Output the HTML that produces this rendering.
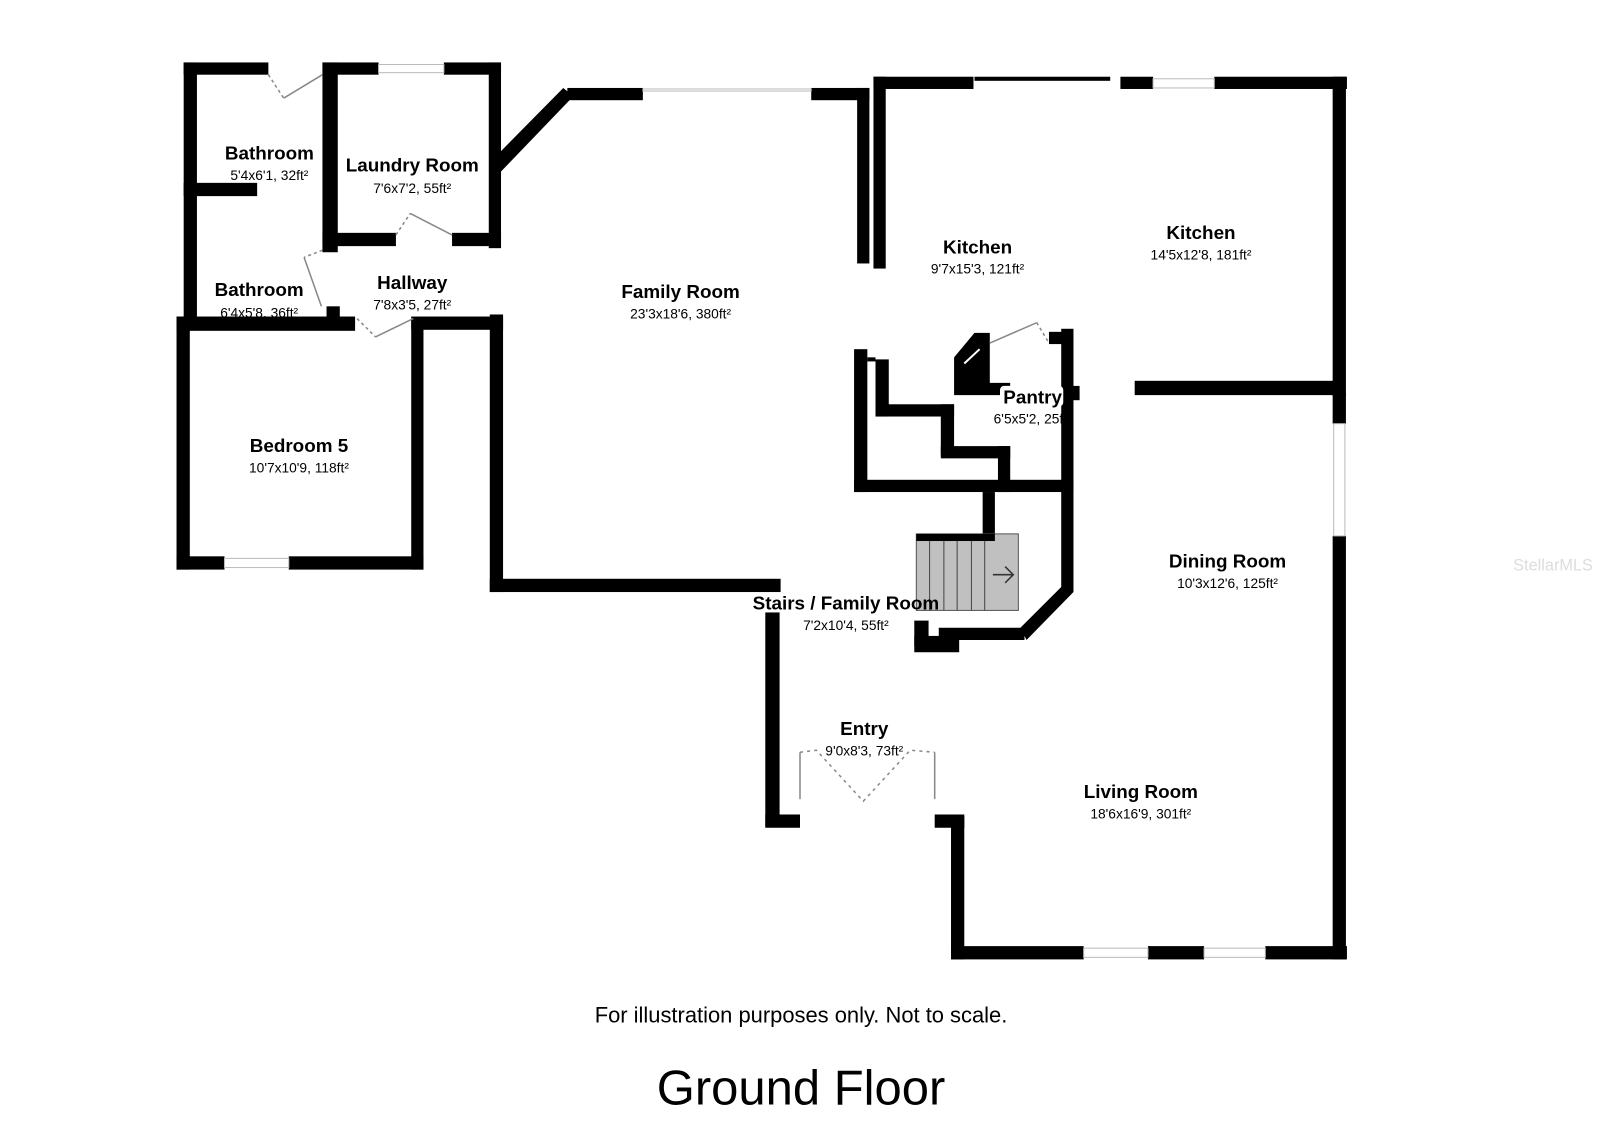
<!DOCTYPE html>
<html><head><meta charset="utf-8"><style>
html,body{margin:0;padding:0;background:#fff;width:1600px;height:1130px;overflow:hidden}
svg{display:block}
text{font-family:"Liberation Sans",Arial,sans-serif;text-anchor:middle;fill:#000}
.n{font-size:18.5px;font-weight:bold}
.d{font-size:13.5px}
</style></head><body>
<svg width="1600" height="1130" viewBox="0 0 1568 1107" xmlns="http://www.w3.org/2000/svg">
<rect x="0" y="0" width="1568" height="1107" fill="#fff"/>
<g fill="#000">
<rect x="180" y="61" width="83" height="12"/>
<rect x="180" y="61" width="13" height="260"/>
<rect x="180" y="179" width="72" height="13"/>
<rect x="316" y="61" width="55" height="12"/><rect x="435" y="61" width="56" height="12"/>
<rect x="316" y="61" width="15" height="186"/>
<rect x="316" y="228" width="72" height="13"/>
<rect x="443" y="228" width="48" height="13"/>
<rect x="479" y="61" width="12" height="182"/>
<polygon points="479,160 552,86 562,94 489,170"/>
<rect x="556" y="86" width="74" height="12"/>
<rect x="795" y="86" width="57" height="12"/>
<rect x="840" y="86" width="12" height="172"/>
<rect x="856" y="75" width="12" height="188"/>
<rect x="856" y="75" width="98" height="12"/>
<rect x="955" y="75" width="133" height="4"/>
<rect x="1098" y="75" width="32" height="12"/>
<rect x="1190" y="75" width="130" height="12"/>
<rect x="1306" y="75" width="13" height="313"/>
<rect x="1112" y="373" width="200" height="14"/>
<rect x="1306" y="385" width="13" height="30"/>
<rect x="1306" y="525" width="13" height="415"/>
<rect x="932" y="927" width="130" height="13"/>
<rect x="1125" y="927" width="55" height="13"/>
<rect x="1240" y="927" width="80" height="13"/>
<rect x="932" y="800" width="13" height="140"/>
<rect x="916" y="798" width="29" height="13"/>
<rect x="750" y="600" width="14" height="210"/>
<rect x="750" y="798" width="34" height="13"/>
<rect x="480" y="567" width="285" height="13"/>
<rect x="480" y="308" width="13" height="272"/>
<rect x="403" y="310" width="90" height="13"/>
<rect x="173" y="310" width="175" height="14"/>
<rect x="320" y="300" width="13" height="16"/>
<rect x="173" y="310" width="13" height="248"/>
<rect x="173" y="545" width="47" height="13"/>
<rect x="283" y="545" width="132" height="13"/>
<rect x="403" y="312" width="12" height="246"/>
<rect x="837" y="342" width="13" height="140"/>
<rect x="850" y="350" width="8" height="4"/>
<rect x="858" y="352" width="13" height="56"/>
<rect x="858" y="396" width="77" height="12"/>
<rect x="922" y="396" width="13" height="50"/>
<rect x="922" y="437" width="68" height="12"/>
<rect x="978" y="437" width="12" height="45"/>
<rect x="837" y="470" width="215" height="12"/>
<rect x="1040" y="322" width="12" height="258"/>
<rect x="1028" y="325" width="14" height="12"/>
<rect x="1046" y="378" width="12" height="14"/>
<polygon points="1040,575 1052,580 1006,627 1000,615"/>
<rect x="920" y="615" width="84" height="12"/>
<rect x="963" y="482" width="12" height="43"/>
<rect x="896" y="608" width="14" height="25"/>
<rect x="896" y="623" width="44" height="16"/>
<polygon points="935,350 955,326 970,326 970,375 990,375 990,387 935,387"/>
</g>
<line x1="945" y1="356" x2="960" y2="342" stroke="#fff" stroke-width="2"/>
<rect x="898" y="523" width="100" height="75" fill="#c0c0c0" stroke="#555" stroke-width="1"/>
<rect x="898" y="523" width="77" height="7" fill="#000"/>
<g stroke="#444" stroke-width="1">
<line x1="911" y1="530" x2="911" y2="598"/><line x1="925" y1="530" x2="925" y2="598"/>
<line x1="938" y1="530" x2="938" y2="598"/><line x1="952" y1="530" x2="952" y2="598"/>
<line x1="965" y1="530" x2="965" y2="598"/>
</g>
<path d="M973 563 H993 M985 555 L993 563 L985 571" stroke="#333" stroke-width="1.5" fill="none"/>
<g fill="#fff" stroke="#bbb" stroke-width="1">
<rect x="371" y="63" width="64" height="8"/><rect x="630" y="87" width="165" height="2"/>
<rect x="1130" y="77" width="60" height="9"/><rect x="220" y="547" width="63" height="9"/>
<rect x="1062" y="929" width="63" height="9"/><rect x="1180" y="929" width="60" height="9"/>
<rect x="1307" y="415" width="11" height="110"/>
</g>
<g stroke="#888" stroke-width="1.5" fill="none">
<path d="M278 96 L316 73"/><path d="M263 73 L278 96" stroke-dasharray="3,3"/>
<path d="M402 209 L443 230"/><path d="M388 230 L402 209" stroke-dasharray="3,3"/>
<path d="M298 252 L315 300"/><path d="M316 245 L298 252" stroke-dasharray="3,3"/>
<path d="M368 330 L405 312"/><path d="M350 312 L368 330" stroke-dasharray="3,3"/>
<path d="M970 336 L1016 316"/><path d="M1016 316 L1028 336" stroke-dasharray="3,3"/>
<path d="M784 783 V737 M916 737 V783"/>
<path d="M784 737 L800 735 L846 785 L892 735 L916 737" stroke-dasharray="3,4"/>
</g>
<text class="n" x="264" y="156">Bathroom</text><text class="d" x="264" y="176">5'4x6'1, 32ft²</text>
<text class="n" x="404" y="168">Laundry Room</text><text class="d" x="404" y="189">7'6x7'2, 55ft²</text>
<text class="n" x="254" y="290">Bathroom</text><text class="d" x="254" y="311">6'4x5'8, 36ft²</text>
<text class="n" x="404" y="283">Hallway</text><text class="d" x="404" y="303">7'8x3'5, 27ft²</text>
<text class="n" x="667" y="292">Family Room</text><text class="d" x="667" y="312">23'3x18'6, 380ft²</text>
<text class="n" x="958" y="248">Kitchen</text><text class="d" x="958" y="268">9'7x15'3, 121ft²</text>
<text class="n" x="1177" y="234">Kitchen</text><text class="d" x="1177" y="254">14'5x12'8, 181ft²</text>
<rect x="980" y="378" width="62" height="20" rx="4" fill="#fff"/>
<text class="n" x="1012" y="395">Pantry</text><text class="d" x="1012" y="415">6'5x5'2, 25ft²</text>
<text class="n" x="293" y="443">Bedroom 5</text><text class="d" x="293" y="463">10'7x10'9, 118ft²</text>
<text class="n" x="1203" y="556">Dining Room</text><text class="d" x="1203" y="576">10'3x12'6, 125ft²</text>
<text class="n" x="829" y="597">Stairs / Family Room</text><text class="d" x="829" y="617">7'2x10'4, 55ft²</text>
<text class="n" x="847" y="720">Entry</text><text class="d" x="847" y="740">9'0x8'3, 73ft²</text>
<text class="n" x="1118" y="782">Living Room</text><text class="d" x="1118" y="802">18'6x16'9, 301ft²</text>
<text x="1522" y="559" style="font-size:16px;fill:#ddd">StellarMLS</text>
<text x="785" y="1002" style="font-size:21.5px">For illustration purposes only. Not to scale.</text>
<text x="785" y="1082" style="font-size:48px">Ground Floor</text>
</svg>
</body></html>
